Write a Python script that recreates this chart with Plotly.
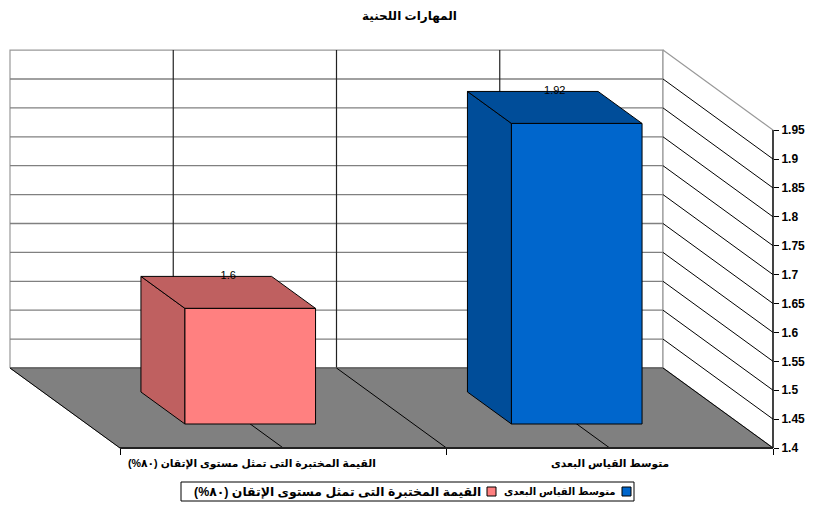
import plotly.graph_objects as go

# ---------------- data ----------------
title_text = "المهارات اللحنية"
categories = ["القيمة المختبرة التى تمثل مستوى الإتقان (٨٠%)", "متوسط القياس البعدى"]
values = [1.6, 1.92]
value_labels = ["1.6", "1.92"]
tick_vals = [1.4, 1.45, 1.5, 1.55, 1.6, 1.65, 1.7, 1.75, 1.8, 1.85, 1.9, 1.95]
tick_text = ["1.4", "1.45", "1.5", "1.55", "1.6", "1.65", "1.7", "1.75", "1.8", "1.85", "1.9", "1.95"]
legend_order = [1, 0]  # RTL legend: rightmost item first

# ---------------- styling ----------------
PAGE_OFF = 8                     # default body margin of the html page
W, H = 814 - PAGE_OFF, 518 - PAGE_OFF
FRONT_COLORS = ["#FF8080", "#0066CC"]
SIDE_COLORS = ["#BF6060", "#004D99"]
FLOOR = "#808080"
FONT = "Arial, 'Liberation Sans', 'DejaVu Sans', sans-serif"
AR_SIZE = 10.7
LEGEND_SIZES = [12.4, 10.1]      # per category (index order)

def rtl(s):
    return "\u202B" + s + "\u202C"

# pixel geometry of the front plane (category axis 0..1, value axis)
X0PX, XSPAN = 120 - PAGE_OFF, 653
Y14PX, VSCALE = 448 - PAGE_OFF, 578
VMIN, VMAX = tick_vals[0], tick_vals[-1]
DEPTH_DX = -110 / XSPAN          # x-units per unit depth
DEPTH_DV = 80 / VSCALE           # value-units per unit depth
BAR_HALF = 0.1
D_FRONT, D_BACK = 0.3, 0.7

def P(x, d, v):
    return x + DEPTH_DX * d, v + DEPTH_DV * d

def poly(pts):
    xs, ys = [], []
    for p in pts:
        X, Y = P(*p)
        xs.append(X); ys.append(Y)
    return xs, ys

fig = go.Figure()

def face(pts, fill, line="black", lw=1):
    xs, ys = poly(pts)
    xs.append(xs[0]); ys.append(ys[0])
    fig.add_trace(go.Scatter(x=xs, y=ys, mode="lines", fill="toself", fillcolor=fill,
                             line=dict(color=line, width=lw), hoverinfo="skip", showlegend=False))

def seg(a, b, color="black", lw=1):
    xs, ys = poly([a, b])
    fig.add_trace(go.Scatter(x=xs, y=ys, mode="lines", line=dict(color=color, width=lw),
                             hoverinfo="skip", showlegend=False))

# walls
face([(0, 1, VMIN), (1, 1, VMIN), (1, 1, VMAX), (0, 1, VMAX)], "white", "#999999", 1.2)
face([(1, 1, VMIN), (1, 0, VMIN), (1, 0, VMAX), (1, 1, VMAX)], "white", "#999999", 1.2)
for v in tick_vals[1:-1]:
    seg((0, 1, v), (1, 1, v), "#808080", 1.3)
    seg((1, 1, v), (1, 0, v), "black", 1)
for xv in [0.25, 0.5, 0.75]:
    seg((xv, 1, VMIN), (xv, 1, VMAX), "#222222", 1.2)

# floor
face([(0, 0, VMIN), (1, 0, VMIN), (1, 1, VMIN), (0, 1, VMIN)], FLOOR, FLOOR, 1)
seg((0, 1, VMIN), (1, 1, VMIN), "#606060", 1.5)
for xv in [0, 0.25, 0.5, 0.75, 1]:
    seg((xv, 1, VMIN), (xv, 0, VMIN), "black", 1)
seg((0, 0, VMIN), (1, 0, VMIN), "#222222", 2)
seg((1, 0, VMIN), (1, 0, VMAX), "black", 1.3)

# bars
n = len(categories)
for i, (val, lab) in enumerate(zip(values, value_labels)):
    c = (i + 0.5) / n
    x0, x1 = c - BAR_HALF, c + BAR_HALF
    face([(x0, D_FRONT, VMIN), (x0, D_BACK, VMIN), (x0, D_BACK, val), (x0, D_FRONT, val)], SIDE_COLORS[i])
    face([(x0, D_FRONT, val), (x1, D_FRONT, val), (x1, D_BACK, val), (x0, D_BACK, val)], SIDE_COLORS[i])
    face([(x0, D_FRONT, VMIN), (x1, D_FRONT, VMIN), (x1, D_FRONT, val), (x0, D_FRONT, val)], FRONT_COLORS[i])
    tx, _ = P(c, 0.5, val)
    _, ty = P(c, D_BACK, val)
    fig.add_trace(go.Scatter(x=[tx], y=[ty], mode="text", text=[lab], textposition="middle center",
                             textfont=dict(family=FONT, size=11, color="black"),
                             hoverinfo="skip", showlegend=False))

# category labels
label_shift = [-31, 0]
for i, cat in enumerate(categories):
    c = (i + 0.5) / n
    fig.add_annotation(x=c, y=VMIN, xref="x", yref="y", text="<b>%s</b>" % rtl(cat), showarrow=False,
                       yanchor="middle", yshift=-15, xshift=label_shift[i],
                       font=dict(family=FONT, size=AR_SIZE, color="black"))

# helpers for page pixel positions
def px(x): return (x - PAGE_OFF) / W
def py(y): return 1 - (y - PAGE_OFF) / H

# title
fig.add_annotation(x=px(409), y=py(16), xref="paper", yref="paper", text="<b>%s</b>" % rtl(title_text),
                   showarrow=False, xanchor="center", yanchor="middle",
                   font=dict(family=FONT, size=12, color="black"))

# legend (RTL, built manually)
fig.add_shape(type="rect", xref="paper", yref="paper", x0=px(181), x1=px(634), y0=py(501), y1=py(482),
              line=dict(color="black", width=1), fillcolor="white")
sq_right = [631, 496]
for k, idx in enumerate(legend_order):
    r = sq_right[k]
    fig.add_shape(type="rect", xref="paper", yref="paper", x0=px(r - 9), x1=px(r), y0=py(496), y1=py(487),
                  line=dict(color="black", width=1), fillcolor=FRONT_COLORS[idx])
    fig.add_annotation(x=px(r - 13), y=py(491.5), xref="paper", yref="paper", xanchor="right",
                       yanchor="middle", text="<b>%s</b>" % rtl(categories[idx]), showarrow=False,
                       font=dict(family=FONT, size=LEGEND_SIZES[idx], color="black"))

fig.update_layout(
    width=W, height=H, margin=dict(l=0, r=0, t=0, b=0),
    paper_bgcolor="white", plot_bgcolor="white", showlegend=False,
    xaxis=dict(range=[(0 - X0PX) / XSPAN, (W - X0PX) / XSPAN], showgrid=False, zeroline=False,
               showline=False, showticklabels=False, ticks="outside", ticklen=6, tickcolor="black",
               tickvals=[0, 0.5, 1], anchor="free", position=1 - Y14PX / H, automargin=False, fixedrange=True),
    yaxis=dict(range=[VMIN - (H - Y14PX) / VSCALE, VMIN + Y14PX / VSCALE], showgrid=False, zeroline=False,
               showline=False, ticks="outside", ticklen=5, tickcolor="black", tickvals=tick_vals,
               ticktext=tick_text, anchor="free", position=(X0PX + XSPAN) / W, side="right",
               tickfont=dict(family=FONT, size=12, color="black", weight="bold"), automargin=False,
               fixedrange=True),
)

fig.write_html("out.html")
